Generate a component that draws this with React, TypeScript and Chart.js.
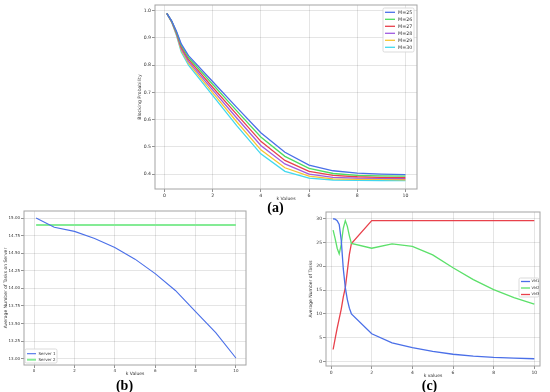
import React, { useEffect, useRef } from 'react';
import { Chart, registerables } from 'chart.js';
Chart.register(...registerables);

const FONT = 'DejaVu Sans';

// ---------- (a) Blocking probability ----------
const kA = [0.1, 0.3, 0.5, 0.7, 1, 2, 3, 4, 5, 6, 7, 8, 9, 10];
const m25 = [0.99, 0.963, 0.925, 0.878, 0.835, 0.740, 0.645, 0.552, 0.480, 0.433, 0.412, 0.403, 0.400, 0.398];
const m26 = [0.99, 0.962, 0.922, 0.872, 0.828, 0.730, 0.632, 0.536, 0.465, 0.421, 0.402, 0.395, 0.393, 0.392];
const m27 = [0.99, 0.961, 0.919, 0.866, 0.821, 0.719, 0.619, 0.520, 0.450, 0.410, 0.395, 0.390, 0.388, 0.387];
const m28 = [0.99, 0.960, 0.916, 0.860, 0.814, 0.709, 0.606, 0.505, 0.437, 0.400, 0.388, 0.385, 0.384, 0.383];
const m29 = [0.99, 0.959, 0.913, 0.854, 0.807, 0.699, 0.592, 0.489, 0.423, 0.392, 0.382, 0.380, 0.380, 0.379];
const m30 = [0.99, 0.958, 0.910, 0.848, 0.800, 0.689, 0.578, 0.474, 0.410, 0.385, 0.378, 0.377, 0.376, 0.376];
const seriesA = [m25, m26, m27, m28, m29, m30];
const labelsA = ['M=25', 'M=26', 'M=27', 'M=28', 'M=29', 'M=30'];
const colorsA = ['#4a6fe8', '#4ddc5f', '#e8414b', '#a05be0', '#f7c531', '#41d8ee'];
const xTicksA = [0, 2, 4, 6, 8, 10];
const yTicksA = [0.4, 0.5, 0.6, 0.7, 0.8, 0.9, 1.0];

// ---------- (b) Tasks on server ----------
const kB = [0.1, 1, 2, 3, 4, 5, 6, 7, 8, 9, 10];
const server1 = [15.0, 14.87, 14.81, 14.71, 14.58, 14.415, 14.21, 13.97, 13.67, 13.37, 13.01];
const server2 = [14.9, 14.9, 14.9, 14.9, 14.9, 14.9, 14.9, 14.9, 14.9, 14.9, 14.9];
const xTicksB = [0, 2, 4, 6, 8, 10];
const yTicksB = [13.0, 13.25, 13.5, 13.75, 14.0, 14.25, 14.5, 14.75, 15.0];

// ---------- (c) Tasks per VM ----------
const kC = [0.1, 0.2, 0.3, 0.4, 0.5, 0.6, 0.7, 0.8, 0.9, 1, 2, 3, 4, 5, 6, 7, 8, 9, 10];
const vm1 = [30.0, 29.9, 29.6, 28.8, 25.5, 19.5, 15.5, 13.0, 11.2, 10.0, 5.8, 3.9, 2.9, 2.1, 1.5, 1.1, 0.85, 0.7, 0.55];
const vm2 = [27.6, 25.8, 23.8, 22.6, 24.6, 28.0, 29.6, 28.4, 26.4, 24.8, 23.8, 24.7, 24.2, 22.4, 19.7, 17.2, 15.1, 13.4, 12.05];
const vm3 = [2.5, 4.8, 7.0, 9.0, 11.0, 13.5, 15.5, 19.0, 22.5, 24.8, 29.6, 29.6, 29.6, 29.6, 29.6, 29.6, 29.6, 29.6, 29.6];
const xTicksC = [0, 2, 4, 6, 8, 10];
const yTicksC = [0, 5, 10, 15, 20, 25, 30];

type Geo = {
  left: number; top: number; width: number; height: number;
  frame: number[]; yTitleX: number; xTitleY: number;
  tickFont: number; titleFont: number;
};

const geoA: Geo = { left: 125, top: 0, width: 300, height: 205, frame: [155, 5, 417, 189], yTitleX: 140, xTitleY: 199, tickFont: 4.6, titleFont: 4.6 };
const geoB: Geo = { left: 0, top: 205, width: 260, height: 175, frame: [24, 211, 246, 365], yTitleX: 5.5, xTitleY: 374.3, tickFont: 4.0, titleFont: 4.5 };
const geoC: Geo = { left: 290, top: 205, width: 260, height: 175, frame: [326, 212, 540, 366], yTitleX: 311, xTitleY: 375.7, tickFont: 4.5, titleFont: 4.5 };

type LegendCfg = { box: number[]; firstRow: number; rowGap: number; lineX: number[]; textX: number; font: number };

function makeLegend(geo: Geo, cfg: LegendCfg) {
  return {
    id: 'boxLegend',
    afterDraw(chart: any) {
      const ctx = chart.ctx as CanvasRenderingContext2D;
      const ox = geo.left, oy = geo.top;
      const [x0, y0, x1, y1] = cfg.box;
      ctx.save();
      ctx.beginPath();
      const r = 1.5;
      const x = x0 - ox, y = y0 - oy, w = x1 - x0, h = y1 - y0;
      ctx.moveTo(x + r, y);
      ctx.lineTo(x + w - r, y);
      ctx.quadraticCurveTo(x + w, y, x + w, y + r);
      ctx.lineTo(x + w, y + h - r);
      ctx.quadraticCurveTo(x + w, y + h, x + w - r, y + h);
      ctx.lineTo(x + r, y + h);
      ctx.quadraticCurveTo(x, y + h, x, y + h - r);
      ctx.lineTo(x, y + r);
      ctx.quadraticCurveTo(x, y, x + r, y);
      ctx.closePath();
      ctx.fillStyle = 'rgba(255,255,255,0.85)';
      ctx.fill();
      ctx.strokeStyle = '#d2d2d2';
      ctx.lineWidth = 0.8;
      ctx.stroke();
      ctx.font = `${cfg.font}px "${FONT}"`;
      ctx.textBaseline = 'middle';
      ctx.textAlign = 'left';
      chart.data.datasets.forEach((ds: any, i: number) => {
        const yy = cfg.firstRow + i * cfg.rowGap - oy;
        ctx.strokeStyle = ds.borderColor;
        ctx.lineWidth = ds.borderWidth;
        ctx.beginPath();
        ctx.moveTo(cfg.lineX[0] - ox, yy);
        ctx.lineTo(cfg.lineX[1] - ox, yy);
        ctx.stroke();
        ctx.fillStyle = '#333';
        ctx.fillText(ds.label, cfg.textX - ox, yy);
      });
      ctx.restore();
    },
  };
}

const framePlugin = {
  id: 'frame',
  afterDatasetsDraw(chart: any) {
    const { ctx, chartArea } = chart;
    const { left, top, right, bottom } = chartArea;
    ctx.save();
    ctx.strokeStyle = '#a4a4a4';
    ctx.lineWidth = 1;
    ctx.strokeRect(left, top, right - left, bottom - top);
    ctx.restore();
  },
};

function axis(opts: {
  min: number; max: number; ticks: number[]; fmt: (v: number) => string;
  title: string; tickFont: number; titleFont: number; size: number; horizontal: boolean;
}) {
  return {
    type: 'linear',
    min: opts.min,
    max: opts.max,
    afterBuildTicks: (s: any) => {
      s.ticks = opts.ticks.map((v) => ({ value: v }));
    },
    afterFit: (s: any) => {
      if (opts.horizontal) s.height = opts.size;
      else s.width = opts.size;
    },
    ticks: {
      autoSkip: false,
      maxRotation: 0,
      minRotation: 0,
      padding: 1,
      color: '#333',
      font: { family: FONT, size: opts.tickFont },
      callback: (v: any) => opts.fmt(Number(v)),
    },
    grid: { color: 'rgba(0,0,0,0.13)', lineWidth: 0.8, tickLength: 3, tickColor: '#777', drawTicks: true },
    border: { display: false },
    title: {
      display: true,
      text: opts.title,
      padding: 0,
      color: '#333',
      font: { family: FONT, size: opts.titleFont, lineHeight: 1.2 },
    },
  };
}

function buildConfig(geo: Geo, datasets: any[], x: { min: number; max: number; ticks: number[]; fmt: (v: number) => string; title: string },
  y: { min: number; max: number; ticks: number[]; fmt: (v: number) => string; title: string }, legend: LegendCfg): any {
  const lh = geo.titleFont * 1.2;
  const padLeft = geo.yTitleX - geo.left - lh / 2;
  const padTop = geo.frame[1] - geo.top;
  const padRight = geo.left + geo.width - geo.frame[2];
  const padBottom = geo.top + geo.height - geo.xTitleY - lh / 2;
  const yWidth = geo.frame[0] - geo.left - padLeft;
  const xHeight = geo.top + geo.height - padBottom - geo.frame[3];
  return {
    type: 'line',
    data: { datasets },
    options: {
      animation: false,
      responsive: false,
      maintainAspectRatio: false,
      devicePixelRatio: 1,
      layout: { padding: { left: padLeft, top: padTop, right: padRight, bottom: padBottom } },
      plugins: { legend: { display: false }, tooltip: { enabled: false } },
      elements: { point: { radius: 0 }, line: { tension: 0 } },
      scales: {
        x: axis({ ...x, tickFont: geo.tickFont, titleFont: geo.titleFont, size: xHeight, horizontal: true }),
        y: axis({ ...y, tickFont: geo.tickFont, titleFont: geo.titleFont, size: yWidth, horizontal: false }),
      },
    },
    plugins: [framePlugin, makeLegend(geo, legend)],
  };
}

function pts(xs: number[], ys: number[]) {
  return xs.map((x, i) => ({ x, y: ys[i] }));
}

function configA() {
  const datasets = seriesA.map((s, i) => ({
    label: labelsA[i], data: pts(kA, s), borderColor: colorsA[i], borderWidth: 1.3, fill: false,
  }));
  return buildConfig(geoA, datasets,
    { min: -0.39, max: 10.48, ticks: xTicksA, fmt: (v) => String(v), title: 'k Values' },
    { min: 0.345, max: 1.021, ticks: yTicksA, fmt: (v) => v.toFixed(1), title: 'Blocking Probability' },
    { box: [383, 8, 414, 52], firstRow: 12.3, rowGap: 7, lineX: [385, 395], textX: 398, font: 4.8 });
}

function configB() {
  const datasets = [
    { label: 'Server 1', data: pts(kB, server1), borderColor: '#4a6fe8', borderWidth: 1.1, fill: false },
    { label: 'Server 2', data: pts(kB, server2), borderColor: '#84eb95', borderWidth: 2, fill: false },
  ];
  return buildConfig(geoB, datasets,
    { min: -0.5, max: 10.5, ticks: xTicksB, fmt: (v) => String(v), title: 'k Values' },
    { min: 12.91, max: 15.1, ticks: yTicksB, fmt: (v) => v.toFixed(2), title: 'Average Number of Tasks on Server' },
    { box: [25, 349, 57, 363], firstRow: 353.7, rowGap: 6, lineX: [27, 36], textX: 38.5, font: 4.0 });
}

function configC() {
  const datasets = [
    { label: 'VM1', data: pts(kC, vm1), borderColor: '#4a6fe8', borderWidth: 1.3, fill: false },
    { label: 'VM2', data: pts(kC, vm2), borderColor: '#5ce06a', borderWidth: 1.3, fill: false },
    { label: 'VM3', data: pts(kC, vm3), borderColor: '#e8414b', borderWidth: 1.3, fill: false },
  ];
  return buildConfig(geoC, datasets,
    { min: -0.25, max: 10.28, ticks: xTicksC, fmt: (v) => String(v), title: 'k values' },
    { min: -0.97, max: 31.42, ticks: yTicksC, fmt: (v) => String(Math.round(v)), title: 'Average Number of Tasks' },
    { box: [519, 278, 539, 297], firstRow: 281.5, rowGap: 6.5, lineX: [521, 530], textX: 531.5, font: 3.6 });
}

function Panel({ geo, build }: { geo: Geo; build: () => any }) {
  const ref = useRef<HTMLCanvasElement>(null);
  useEffect(() => {
    const chart = new Chart(ref.current as HTMLCanvasElement, build());
    return () => chart.destroy();
  }, []);
  return (
    <canvas
      ref={ref}
      width={geo.width}
      height={geo.height}
      style={{ position: 'absolute', left: geo.left, top: geo.top, width: geo.width, height: geo.height }}
    />
  );
}

const labelStyle: React.CSSProperties = {
  position: 'absolute',
  fontFamily: '"Liberation Serif", "Times New Roman", serif',
  fontWeight: 'bold',
  fontSize: 14,
  lineHeight: '14px',
  color: '#000',
  textAlign: 'center',
  width: 40,
  whiteSpace: 'nowrap',
};

export default function App() {
  return (
    <div style={{ position: 'fixed', left: 0, top: 0, width: 550, height: 392, background: '#fff', overflow: 'hidden' }}>
      <Panel geo={geoA} build={configA} />
      <Panel geo={geoB} build={configB} />
      <Panel geo={geoC} build={configC} />
      <div style={{ ...labelStyle, left: 275.5 - 20, top: 201 }}>(a)</div>
      <div style={{ ...labelStyle, left: 124.5 - 20, top: 379 }}>(b)</div>
      <div style={{ ...labelStyle, left: 429.5 - 20, top: 379 }}>(c)</div>
    </div>
  );
}
